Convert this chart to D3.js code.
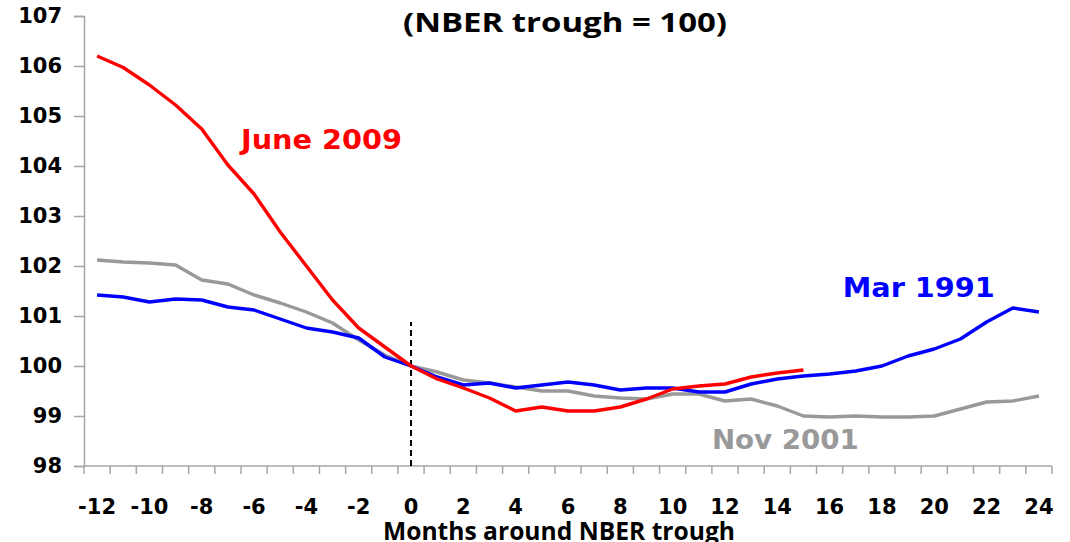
<!DOCTYPE html>
<html>
<head>
<meta charset="utf-8">
<script src="https://cdn.jsdelivr.net/npm/d3@7"></script>
<style>
  body { margin: 0; background: #fff; }
  svg { display: block; }
</style>
</head>
<body>
<svg id="chart" width="1070" height="542"></svg>
<script>
// months around the NBER trough
var months = d3.range(-12, 25);
var yTicks = [98, 99, 100, 101, 102, 103, 104, 105, 106, 107];

// Nov 2001 recession (grey)
var nov2001 = [102.12, 102.08, 102.06, 102.02, 101.72, 101.64, 101.42, 101.26, 101.08, 100.86, 100.52, 100.22,
  100.0, 99.88, 99.72, 99.66, 99.58, 99.5, 99.5, 99.4, 99.36, 99.34, 99.44, 99.44, 99.3, 99.34, 99.2,
  99.0, 98.98, 99.0, 98.98, 98.98, 99.0, 99.14, 99.28, 99.3, 99.4];
// Mar 1991 recession (blue)
var mar1991 = [101.42, 101.38, 101.28, 101.34, 101.32, 101.18, 101.12, 100.94, 100.76, 100.68, 100.56, 100.18,
  100.0, 99.78, 99.62, 99.66, 99.56, 99.62, 99.68, 99.62, 99.52, 99.56, 99.56, 99.48, 99.48, 99.64, 99.74,
  99.8, 99.84, 99.9, 100.0, 100.2, 100.34, 100.54, 100.88, 101.16, 101.08];
// June 2009 recession (red), ends at month 15
var jun2009 = [106.2, 105.97, 105.62, 105.22, 104.74, 104.02, 103.44, 102.68, 102.0, 101.32, 100.76, 100.38,
  100.0, 99.74, 99.56, 99.36, 99.1, 99.18, 99.1, 99.1, 99.18, 99.34, 99.54, 99.6, 99.64, 99.78, 99.86, 99.92];

var svg = d3.select("#chart");
var plotLeft = 84, plotRight = 1052, plotTop = 16, plotBottom = 466;

var x = d3.scaleBand().domain(months).range([plotLeft, plotRight]).padding(0);
var y = d3.scaleLinear().domain([98, 107]).range([plotBottom, plotTop]);
var cx = function (m) { return x(m) + x.bandwidth() / 2; };

var tickFont = "'DejaVu Sans', Verdana, sans-serif";
var titleFont = "'Open Sans', Lato, sans-serif";
var axisColor = "#a6a6a6";

// y axis
var yAxis = svg.append("g")
    .attr("transform", "translate(" + plotLeft + ",0)")
    .call(d3.axisLeft(y).tickValues(yTicks).tickSize(10).tickPadding(12).tickFormat(d3.format("d")));
yAxis.select(".domain").attr("stroke", axisColor).attr("stroke-width", 1.5);
yAxis.selectAll(".tick line").attr("stroke", axisColor).attr("stroke-width", 1.5);
yAxis.selectAll("text")
    .attr("font-family", tickFont).attr("font-weight", "bold").attr("font-size", 21).attr("fill", "#000");

// x axis (labels every 2 months, ticks between categories)
var xAxis = svg.append("g")
    .attr("transform", "translate(0," + plotBottom + ")")
    .call(d3.axisBottom(x).tickValues(months.filter(function (m) { return m % 2 === 0; }))
      .tickSize(0).tickPadding(33));
xAxis.select(".domain").remove();
xAxis.selectAll("text")
    .attr("font-family", tickFont).attr("font-weight", "bold").attr("font-size", 21).attr("fill", "#000");

var bounds = months.map(function (m) { return x(m); }).concat([plotRight]);
svg.append("line")
    .attr("x1", plotLeft).attr("x2", plotRight).attr("y1", plotBottom).attr("y2", plotBottom)
    .attr("stroke", axisColor).attr("stroke-width", 1.5);
svg.append("g").selectAll("line").data(bounds).join("line")
    .attr("x1", function (d) { return d; }).attr("x2", function (d) { return d; })
    .attr("y1", plotBottom).attr("y2", plotBottom + 8)
    .attr("stroke", axisColor).attr("stroke-width", 1.5);

// trough marker
svg.append("line")
    .attr("x1", cx(0)).attr("x2", cx(0))
    .attr("y1", y(98)).attr("y2", y(100.88))
    .attr("stroke", "#000").attr("stroke-width", 2).attr("stroke-dasharray", "6,4");

var line = d3.line()
    .x(function (d, i) { return cx(months[i]); })
    .y(function (d) { return y(d); });

var series = [
  { values: nov2001, color: "#999999" },
  { values: mar1991, color: "#0000ff" },
  { values: jun2009, color: "#ff0000" }
];
series.forEach(function (s) {
  svg.append("path")
      .datum(s.values)
      .attr("fill", "none")
      .attr("stroke", s.color)
      .attr("stroke-width", 3.4)
      .attr("stroke-linejoin", "round")
      .attr("d", line);
});

// series labels
var labels = [
  { text: "June 2009", month: -6, value: 104.34, color: "#ff0000", width: 161 },
  { text: "Mar 1991", month: 17, value: 101.38, color: "#0000ff", width: 152 },
  { text: "Nov 2001", month: 12, value: 98.34, color: "#999999", width: 147 }
];
svg.append("g").selectAll("text").data(labels).join("text")
    .attr("x", function (d) { return x(d.month); })
    .attr("y", function (d) { return y(d.value); })
    .attr("fill", function (d) { return d.color; })
    .attr("font-family", tickFont).attr("font-weight", "bold").attr("font-size", 26)
    .attr("textLength", function (d) { return d.width; })
    .attr("lengthAdjust", "spacingAndGlyphs")
    .text(function (d) { return d.text; });

// titles
svg.append("text")
    .attr("x", 403).attr("y", 32)
    .attr("font-family", titleFont).attr("font-weight", "bold").attr("font-size", 27)
    .attr("textLength", 324).attr("lengthAdjust", "spacingAndGlyphs")
    .text("(NBER trough = 100)");

svg.append("text")
    .attr("x", 383).attr("y", 540)
    .attr("font-family", titleFont).attr("font-weight", "bold").attr("font-size", 25)
    .attr("textLength", 352).attr("lengthAdjust", "spacingAndGlyphs")
    .text("Months around NBER trough");
</script>
</body>
</html>
